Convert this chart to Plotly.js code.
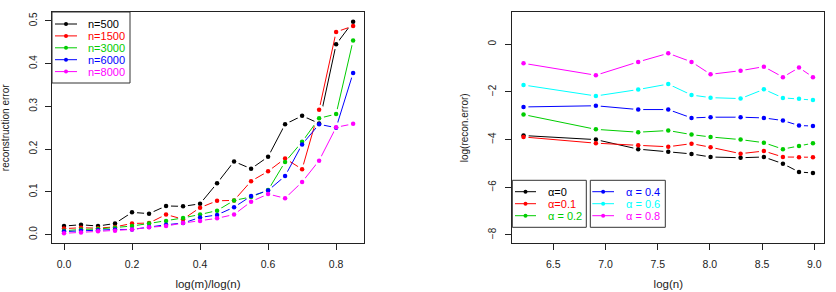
<!DOCTYPE html>
<html>
<head>
<meta charset="utf-8">
<script src="https://cdn.plot.ly/plotly-3.0.1.min.js"></script>
<style>
  html, body { margin: 0; padding: 0; background: #ffffff; }
  #chart { width: 836px; height: 292px; }
</style>
</head>
<body>
<div id="chart"></div>
<script>
// ---- Left panel: reconstruction error against log(m)/log(n) ----
const ratio = [0, 0.05, 0.10, 0.15, 0.20, 0.25, 0.30, 0.35, 0.40, 0.45,
               0.50, 0.55, 0.60, 0.65, 0.70, 0.75, 0.80, 0.85];
const errN500  = [0.020, 0.023, 0.020, 0.026, 0.052, 0.049, 0.067, 0.066, 0.072, 0.120,
                  0.171, 0.154, 0.182, 0.258, 0.278, 0.260, 0.445, 0.498];
const errN1500 = [0.014, 0.016, 0.015, 0.018, 0.026, 0.027, 0.047, 0.036, 0.063, 0.079,
                  0.080, 0.125, 0.148, 0.178, 0.153, 0.292, 0.474, 0.488];
const errN3000 = [0.009, 0.012, 0.013, 0.016, 0.020, 0.026, 0.032, 0.039, 0.047, 0.056,
                  0.080, 0.088, 0.104, 0.170, 0.217, 0.272, 0.282, 0.454];
const errN6000 = [0.007, 0.009, 0.010, 0.012, 0.012, 0.018, 0.023, 0.027, 0.040, 0.046,
                  0.064, 0.090, 0.103, 0.137, 0.211, 0.258, 0.250, 0.378];
const errN8000 = [0.003, 0.005, 0.008, 0.009, 0.012, 0.017, 0.020, 0.027, 0.032, 0.038,
                  0.047, 0.077, 0.095, 0.085, 0.123, 0.173, 0.251, 0.259];
const leftNames  = ['n=500', 'n=1500', 'n=3000', 'n=6000', 'n=8000'];
const leftColors = ['#000000', '#FF0000', '#00CD00', '#0000FF', '#FF00FF'];
const leftSeries = [errN500, errN1500, errN3000, errN6000, errN8000];

// ---- Right panel: log reconstruction error against log(n) ----
const sampleSizes = [500, 1000, 1500, 2000, 2500, 3000, 4000, 5000, 6000, 7000, 8000];
const logErrA0  = [-3.83, -4.00, -4.40, -4.51, -4.60, -4.73, -4.76, -4.73, -5.01, -5.36, -5.40];
const logErrA01 = [-3.89, -4.15, -4.24, -4.30, -4.17, -4.32, -4.59, -4.48, -4.73, -4.74, -4.74];
const logErrA02 = [-2.95, -3.57, -3.69, -3.62, -3.79, -3.89, -4.00, -4.13, -4.40, -4.27, -4.15];
const logErrA04 = [-2.63, -2.58, -2.74, -2.74, -3.09, -3.06, -3.06, -3.09, -3.20, -3.41, -3.43];
const logErrA06 = [-1.71, -2.17, -1.90, -1.67, -2.13, -2.24, -2.28, -1.89, -2.25, -2.29, -2.34];
const logErrA08 = [-0.80, -1.30, -0.74, -0.38, -0.74, -1.26, -1.11, -0.94, -1.38, -0.98, -1.38];
const rightNames  = ['α=0', 'α=0.1', 'α = 0.2', 'α = 0.4', 'α = 0.6', 'α = 0.8'];
const rightColors = ['#000000', '#FF0000', '#00CD00', '#0000FF', '#00FFFF', '#FF00FF'];
const rightSeries = [logErrA0, logErrA01, logErrA02, logErrA04, logErrA06, logErrA08];

const logN = sampleSizes.map(Math.log);

const W = 836, H = 292;
const FONT = 'Liberation Sans, Arial, Helvetica, sans-serif';
const px = x => x / W;
const py = y => 1 - y / H;

// Lines broken around each point (white disks), then the coloured dots on top.
function panelTraces(xs, seriesList, colors, names, xa, ya) {
  const lines = seriesList.map((ys, i) => ({
    x: xs, y: ys, xaxis: xa, yaxis: ya, type: 'scatter', mode: 'lines+markers',
    name: names[i], showlegend: false, hoverinfo: 'skip',
    line: { color: colors[i], width: 1 },
    marker: { color: '#ffffff', size: 10, line: { width: 0 } }
  }));
  const dots = seriesList.map((ys, i) => ({
    x: xs, y: ys, xaxis: xa, yaxis: ya, type: 'scatter', mode: 'markers',
    name: names[i], showlegend: false,
    marker: { color: colors[i], size: 4.5, line: { width: 0 } }
  }));
  return lines.concat(dots);
}

const traces = panelTraces(ratio, leftSeries, leftColors, leftNames, 'x', 'y')
  .concat(panelTraces(logN, rightSeries, rightColors, rightNames, 'x2', 'y2'));

// Legend boxes drawn as shapes with text annotations.
const shapes = [];
const annotations = [];
function legendBox(x0, y0, x1, y1) {
  shapes.push({ type: 'rect', xref: 'paper', yref: 'paper',
    x0: px(x0), x1: px(x1), y0: py(y1), y1: py(y0),
    line: { color: '#333333', width: 1 }, fillcolor: '#ffffff' });
}
function legendItem(name, color, lineX0, lineX1, textX, y) {
  shapes.push({ type: 'line', xref: 'paper', yref: 'paper',
    x0: px(lineX0), x1: px(lineX1), y0: py(y), y1: py(y),
    line: { color: color, width: 1 } });
  const cx = (lineX0 + lineX1) / 2, r = 2;
  shapes.push({ type: 'circle', xref: 'paper', yref: 'paper',
    x0: px(cx - r), x1: px(cx + r), y0: py(y + r), y1: py(y - r),
    line: { width: 0 }, fillcolor: color });
  annotations.push({ xref: 'paper', yref: 'paper', x: px(textX), y: py(y),
    xanchor: 'left', yanchor: 'middle', showarrow: false, text: name,
    font: { family: FONT, size: 11, color: color } });
}

legendBox(52, 12, 130, 83);
leftNames.forEach((n, i) => legendItem(n, leftColors[i], 55, 77, 86, 24 + i * 11.9));

legendBox(512.3, 180.3, 586.3, 227.3);
legendBox(590.3, 180.3, 665.3, 227.3);
rightNames.forEach((n, i) => {
  const k = i % 3;
  if (i < 3) legendItem(n, rightColors[i], 515, 536, 546, 191.7 + k * 12);
  else legendItem(n, rightColors[i], 592.3, 614, 623.5, 191.7 + k * 12);
});

const yDomain = [py(243.3), py(12.3)];
const axisCommon = {
  showline: true, mirror: true, linecolor: '#222222', linewidth: 1,
  ticks: 'outside', ticklen: 6, tickwidth: 1, tickcolor: '#222222',
  showgrid: false, zeroline: false,
  tickfont: { family: FONT, size: 10.5, color: '#222222' }
};

const layout = {
  width: W, height: H,
  margin: { l: 0, r: 0, t: 0, b: 0 },
  paper_bgcolor: '#ffffff', plot_bgcolor: '#ffffff',
  showlegend: false,
  xaxis: Object.assign({}, axisCommon, {
    domain: [px(52), px(364)], range: [-0.0353, 0.882], anchor: 'y',
    tickvals: [0, 0.2, 0.4, 0.6, 0.8], tickformat: '.1f', ticklabelstandoff: 5,
    title: { text: 'log(m)/log(n)', font: { family: FONT, size: 11.5, color: '#222222' }, standoff: 11 }
  }),
  yaxis: Object.assign({}, axisCommon, {
    domain: yDomain, range: [-0.0204, 0.52], anchor: 'x',
    tickvals: [0, 0.1, 0.2, 0.3, 0.4, 0.5], tickformat: '.1f', tickangle: -90,
    tickfont: { family: FONT, size: 10, color: '#222222' }, ticklabelstandoff: 4,
    title: { text: 'reconstruction error', font: { family: FONT, size: 10, color: '#222222' }, standoff: 16 }
  }),
  xaxis2: Object.assign({}, axisCommon, {
    domain: [px(512.3), px(824.3)], range: [6.107, 9.096], anchor: 'y2',
    tickvals: [6.5, 7.0, 7.5, 8.0, 8.5, 9.0], tickformat: '.1f', ticklabelstandoff: 5,
    title: { text: 'log(n)', font: { family: FONT, size: 11.5, color: '#222222' }, standoff: 11 }
  }),
  yaxis2: Object.assign({}, axisCommon, {
    domain: yDomain, range: [-8.35, 1.34], anchor: 'x2',
    tickvals: [-8, -6, -4, -2, 0], tickangle: -90,
    tickfont: { family: FONT, size: 10, color: '#222222' }, ticklabelstandoff: 5,
    title: { text: 'log(recon.error)', font: { family: FONT, size: 10, color: '#222222' }, standoff: 16 }
  }),
  shapes: shapes,
  annotations: annotations
};

Plotly.newPlot('chart', traces, layout, { displayModeBar: false, staticPlot: true });
</script>
</body>
</html>
